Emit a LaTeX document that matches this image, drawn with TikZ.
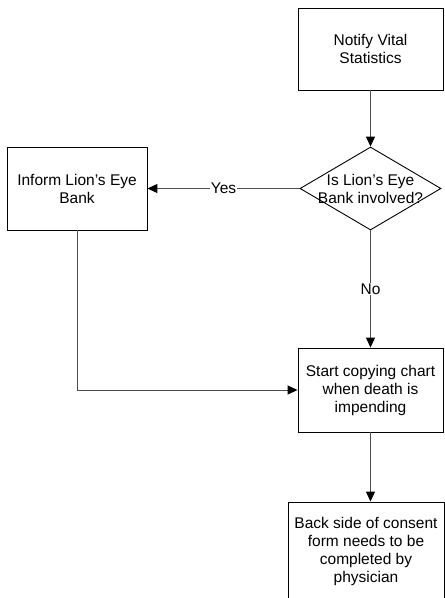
\documentclass[tikz,border=0pt]{standalone}
\usepackage{fontspec}
\setmainfont{Liberation Sans}
\usetikzlibrary{shapes.geometric,arrows.meta}
\begin{document}
\begin{tikzpicture}[x=1pt,y=-1pt,
  font=\fontsize{15.5}{18}\selectfont,
  box/.style={draw=black,line width=0.9pt,fill=white,align=center,inner sep=0pt},
  diam/.style={draw=black,line width=0.9pt,diamond,inner sep=0pt,minimum width=141pt,minimum height=83pt},
  txt/.style={align=center,inner sep=0pt},
  conn/.style={draw=black!70,line width=1pt,-{Triangle[length=10pt,width=9pt,fill=black,color=black]}},
  plain/.style={draw=black!70,line width=1pt},
  lbl/.style={fill=white,inner sep=1pt}
]
\useasboundingbox (0,0) rectangle (445,598);
\node[box,minimum width=145pt,minimum height=82pt] (notify) at (370.5,49) {Notify Vital\\Statistics};
\node[diam] (dia) at (370.5,188.5) {};
\node[txt] (diatext) at (370.5,189) {Is Lion’s Eye\\Bank involved?};
\node[box,minimum width=140pt,minimum height=83pt] (inform) at (77,188.5) {Inform Lion’s Eye\\Bank};
\node[box,minimum width=145pt,minimum height=84pt] (start) at (370.5,390) {Start copying chart\\when death is\\impending};
\node[box,minimum width=156pt,minimum height=99pt] (back) at (366,551.5) {Back side of consent\\form needs to be\\completed by\\physician};
\draw[conn] (notify.south) -- (dia.north);
\draw[conn] (dia.west) -- node[lbl] {Yes} (inform.east);
\draw[conn] (dia.south) -- node[lbl] {No} (start.north);
\draw[conn] (inform.south) |- (start.west);
\draw[conn] (start.south) -- (start.south |- back.north);
\end{tikzpicture}
\end{document}
